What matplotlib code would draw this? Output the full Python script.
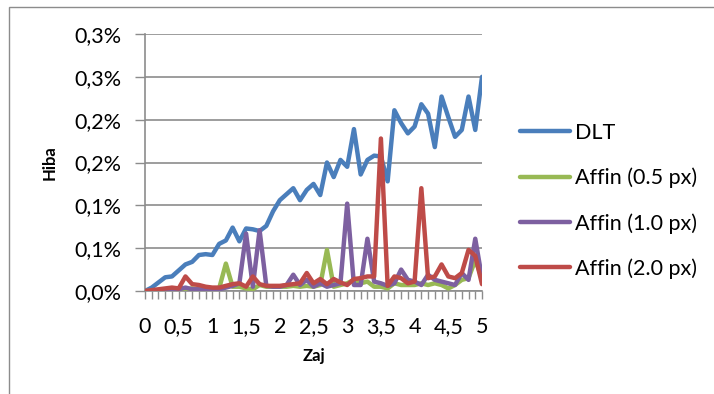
import matplotlib
matplotlib.use("Agg")
import matplotlib.pyplot as plt
from matplotlib.patches import Rectangle

noise = [0.0, 0.1, 0.2, 0.3, 0.4, 0.5, 0.6, 0.7, 0.8, 0.9, 1.0,
         1.1, 1.2, 1.3, 1.4, 1.5, 1.6, 1.7, 1.8, 1.9, 2.0,
         2.1, 2.2, 2.3, 2.4, 2.5, 2.6, 2.7, 2.8, 2.9, 3.0,
         3.1, 3.2, 3.3, 3.4, 3.5, 3.6, 3.7, 3.8, 3.9, 4.0,
         4.1, 4.2, 4.3, 4.4, 4.5, 4.6, 4.7, 4.8, 4.9, 5.0]

dlt = [0.000, 0.004, 0.010, 0.016, 0.017, 0.024, 0.031, 0.034, 0.042, 0.043, 0.042,
       0.055, 0.059, 0.074, 0.058, 0.073, 0.072, 0.070, 0.076, 0.093, 0.106,
       0.113, 0.120, 0.106, 0.118, 0.125, 0.112, 0.150, 0.133, 0.153, 0.145,
       0.189, 0.136, 0.153, 0.158, 0.157, 0.128, 0.211, 0.196, 0.184, 0.192,
       0.218, 0.207, 0.168, 0.227, 0.203, 0.180, 0.188, 0.227, 0.188, 0.250]

affin05 = [0.000, 0.000, 0.000, 0.001, 0.001, 0.002, 0.002, 0.003, 0.002, 0.002, 0.002,
           0.003, 0.032, 0.005, 0.005, 0.003, 0.002, 0.007, 0.005, 0.005, 0.005,
           0.005, 0.006, 0.005, 0.006, 0.005, 0.007, 0.048, 0.005, 0.007, 0.009,
           0.013, 0.009, 0.011, 0.005, 0.005, 0.003, 0.009, 0.007, 0.007, 0.007,
           0.009, 0.007, 0.009, 0.007, 0.003, 0.007, 0.013, 0.015, 0.036, 0.015]

affin10 = [0.000, 0.000, 0.001, 0.001, 0.002, 0.002, 0.004, 0.002, 0.002, 0.001, 0.001,
           0.002, 0.004, 0.006, 0.009, 0.067, 0.005, 0.071, 0.006, 0.005, 0.005,
           0.007, 0.019, 0.007, 0.013, 0.005, 0.009, 0.005, 0.007, 0.009, 0.102,
           0.007, 0.007, 0.061, 0.011, 0.009, 0.006, 0.009, 0.025, 0.013, 0.011,
           0.007, 0.019, 0.013, 0.011, 0.009, 0.007, 0.021, 0.013, 0.061, 0.015]

affin20 = [0.000, 0.001, 0.002, 0.003, 0.004, 0.003, 0.017, 0.008, 0.007, 0.005, 0.004,
           0.004, 0.006, 0.008, 0.009, 0.005, 0.017, 0.008, 0.006, 0.006, 0.006,
           0.007, 0.008, 0.009, 0.021, 0.009, 0.014, 0.008, 0.014, 0.010, 0.007,
           0.014, 0.015, 0.017, 0.017, 0.178, 0.006, 0.017, 0.015, 0.009, 0.011,
           0.120, 0.015, 0.017, 0.031, 0.017, 0.015, 0.021, 0.048, 0.041, 0.008]

series_names = ["DLT", "Affin (0.5 px)", "Affin (1.0 px)", "Affin (2.0 px)"]
colors = ["#4A7EBB", "#98B954", "#7D60A0", "#BE4B48"]

y_ticks = [0.0, 0.05, 0.10, 0.15, 0.20, 0.25, 0.30]
y_labels = ["0,0%", "0,1%", "0,1%", "0,2%", "0,2%", "0,3%", "0,3%"]
x_label_vals = [0.0, 0.5, 1.0, 1.5, 2.0, 2.5, 3.0, 3.5, 4.0, 4.5, 5.0]
x_labels = ["0", "0,5", "1", "1,5", "2", "2,5", "3", "3,5", "4", "4,5", "5"]

plt.rcParams['font.family'] = ['Lato', 'DejaVu Sans']

W, H = 714, 394
fig = plt.figure(figsize=(W / 100, H / 100), dpi=100)
fig.patch.set_facecolor("white")

# outer chart border (only left and top visible)
fig.patches.append(Rectangle((9 / W, -0.1), 1.2, 1 - 7 / H + 0.1, transform=fig.transFigure,
                             fill=False, edgecolor="#8C8C8C", linewidth=1.0))

left, right, top, bottom = 145, 482, 34, 291
ax = fig.add_axes([left / W, 1 - bottom / H, (right - left) / W, (bottom - top) / H])

handles = []
for vals, name, c in zip([dlt, affin05, affin10, affin20], series_names, colors):
    h, = ax.plot(noise, vals, color=c, linewidth=3.2, label=name, solid_joinstyle="round",
                 solid_capstyle="round", zorder=3)
    handles.append(h)

ax.set_xlim(0, 5.0)
ax.set_ylim(0, 0.30)
ax.set_yticks(y_ticks)
ax.set_yticklabels(y_labels, fontsize=15.5)
ax.set_xticks(noise, minor=True)
ax.set_xticks(x_label_vals)
ax.set_xticklabels(x_labels, fontsize=15.5)
ax.tick_params(axis="y", length=7, color="#8C8C8C", width=1, pad=10)
ax.tick_params(axis="x", which="both", length=6, color="#8C8C8C", width=1, pad=13)
ax.grid(axis="y", color="#8C8C8C", linewidth=1.2, zorder=0)
for s in ["top", "right"]:
    ax.spines[s].set_visible(False)
for s in ["left", "bottom"]:
    ax.spines[s].set_color("#8C8C8C")
    ax.spines[s].set_linewidth(1.2)
ax.spines["bottom"].set_zorder(1)

ax.set_ylabel("Hiba", fontsize=12, fontweight="bold", labelpad=12)
ax.set_xlabel("Zaj", fontsize=12, fontweight="bold", labelpad=8)

fig.legend(handles=handles, labels=series_names, loc="center left",
           bbox_to_anchor=(520 / W, 1 - 201 / H),
           frameon=False, fontsize=15.5, handlelength=2.3, handletextpad=0.25,
           labelspacing=1.15, borderaxespad=0, borderpad=0)

fig.savefig("out.png", dpi=100, facecolor="white")
